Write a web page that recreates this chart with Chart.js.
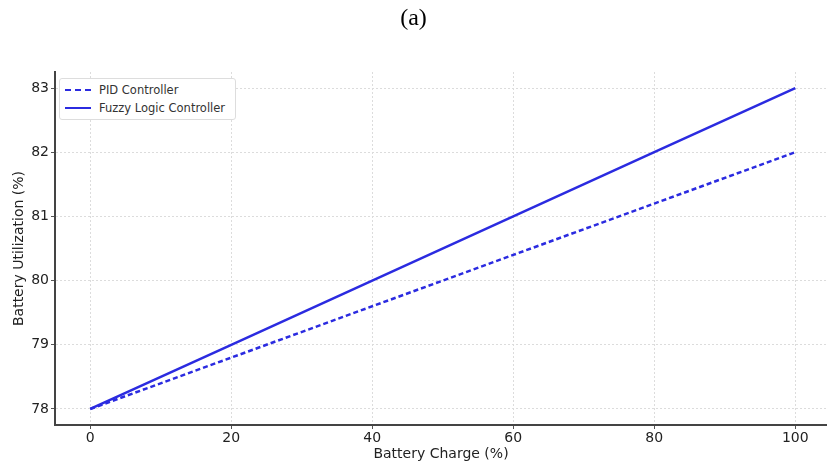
<!DOCTYPE html>
<html><head><meta charset="utf-8">
<script src="https://cdn.jsdelivr.net/npm/chart.js@4/dist/chart.umd.min.js"></script>
<style>
html,body{margin:0;padding:0;background:#fff;}
#wrap{position:relative;width:827px;height:465px;}
#title{position:absolute;left:0;top:4px;width:827px;text-align:center;font-family:"Liberation Serif","Times New Roman",serif;font-size:24px;color:#000;}
#legend{position:absolute;left:59px;top:78px;width:175px;height:40px;border:1px solid #ddd;border-radius:3px;background:#fff;font-family:"DejaVu Sans",sans-serif;font-size:11.5px;color:#333;}
.row{position:absolute;left:5px;height:14px;line-height:14px;}
.row .sw{position:absolute;left:0;top:6px;width:26px;height:0;}
.row span{position:absolute;left:34px;top:0;white-space:nowrap;}
canvas{position:absolute;left:0;top:0;}
</style></head>
<body><div id="wrap">
<canvas id="c" width="827" height="465"></canvas>
<div id="title">(a)</div>
<div id="legend">
 <div class="row" style="top:4px"><div class="sw" style="border-top:2.5px dashed #2b2be0"></div><span>PID Controller</span></div>
 <div class="row" style="top:22px"><div class="sw" style="border-top:2.5px solid #2b2be0"></div><span>Fuzzy Logic Controller</span></div>
</div>
</div>
<script>
const charge = [0, 20, 40, 60, 80, 100];
const pidUtil = [78, 78.8, 79.6, 80.4, 81.2, 82];
const fuzzyUtil = [78, 79, 80, 81, 82, 83];
const xTicks = [0, 20, 40, 60, 80, 100];
const yTicks = [78, 79, 80, 81, 82, 83];
const seriesNames = ["PID Controller", "Fuzzy Logic Controller"];

const blue = '#2b2be0';
const font = {family: '"DejaVu Sans",sans-serif', size: 14};

new Chart(document.getElementById('c'), {
  type: 'scatter',
  data: {
    datasets: [
      {label: seriesNames[0], data: charge.map((x,i)=>({x, y: pidUtil[i]})), showLine: true, borderColor: blue, borderWidth: 2.5, borderDash: [5,3], pointRadius: 0, fill: false},
      {label: seriesNames[1], data: charge.map((x,i)=>({x, y: fuzzyUtil[i]})), showLine: true, borderColor: blue, borderWidth: 2.5, pointRadius: 0, fill: false}
    ]
  },
  options: {
    responsive: false, animation: false,
    layout: {padding: {top: 72, right: 0, bottom: 0, left: 0}},
    plugins: {legend: {display: false}, title: {display: false}, tooltip: {enabled: false}},
    scales: {
      x: {
        type: 'linear', min: -5, max: 104.5,
        afterBuildTicks: s => { s.ticks = xTicks.map(v => ({value: v})); },
        afterFit: s => { s.height = 40; },
        grid: {color: '#dcdcdc', lineWidth: 1, tickColor: '#555', tickLength: 4},
        border: {display: true, color: '#444', width: 2, dash: [2,2]},
        ticks: {font, color: '#222', padding: 1, maxRotation: 0},
        title: {display: true, text: 'Battery Charge (%)', font, color: '#222', padding: {top: 0, bottom: 2}}
      },
      y: {
        type: 'linear', min: 77.75, max: 83.25,
        afterBuildTicks: s => { s.ticks = yTicks.map(v => ({value: v})); },
        afterFit: s => { s.width = 55; },
        grid: {color: '#dcdcdc', lineWidth: 1, tickColor: '#555', tickLength: 4},
        border: {display: true, color: '#444', width: 2, dash: [2,2]},
        ticks: {font, color: '#222', padding: 2},
        title: {display: true, text: 'Battery Utilization (%)', font, color: '#222', padding: {top: 11, bottom: 0}}
      }
    }
  }
});
</script>
</body></html>
